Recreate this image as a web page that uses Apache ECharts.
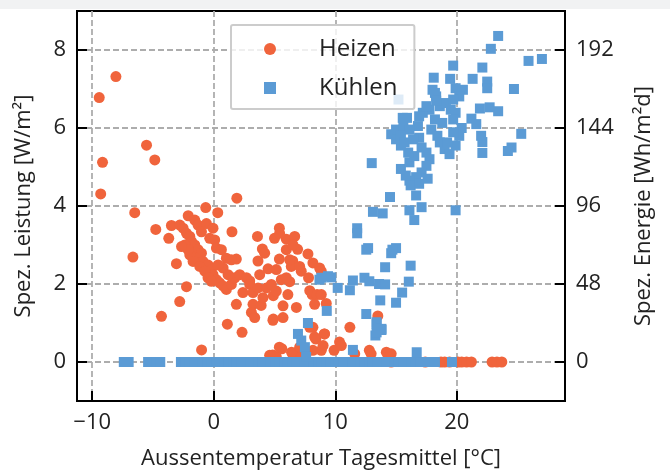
<!DOCTYPE html>
<html>
<head>
<meta charset="utf-8">
<script src="https://cdn.jsdelivr.net/npm/echarts@6/dist/echarts.min.js"></script>
<style>
  html, body { margin: 0; padding: 0; background: #fff; }
  #chart { width: 670px; height: 475px; }
</style>
</head>
<body>
<div id="chart"></div>
<script>
// Heizen: [Tagesmittel °C, Leistung W/m2]
const heizenPunkte = [
  [-8.05,7.32],[-9.42,6.78],[-5.53,5.56],[-4.85,5.18],[-9.15,5.12],[-9.3,4.31],[1.9,4.2],
  [-6.5,3.83],[-0.66,3.96],[0.33,3.83],[-2.1,3.75],[-4.77,3.4],[-3.48,3.5],[-3.7,3.17],
  [-6.65,2.69],[-3.07,2.52],[-2.24,1.93],[-2.8,1.55],[-4.3,1.17],[-1.0,0.31],[1.12,0.97],[2.33,0.76],
  [1.5,3.34],[1.86,2.64],[3.6,3.22],[4.0,2.9],[5.4,3.43],[5.0,3.17],[5.97,3.15],[6.66,3.22],
  [6.9,2.89],[7.75,2.77],[5.4,2.64],[4.47,2.39],[3.64,2.59],[3.78,2.24],[5.56,2.11],[6.25,2.06],
  [6.5,2.59],[7.2,2.33],[7.8,2.16],[2.96,2.08],[2.4,1.78],[1.86,1.48],[3.23,1.48],[3.9,1.45],
  [3.1,1.27],[4.9,1.1],[5.7,1.44],[6.1,1.73],[4.9,1.7],[6.8,1.4],[7.9,1.83],[8.1,1.73],[8.5,1.73],
  [7.9,0.89],[8.4,0.59],[5.6,0.34],[6.5,0.21],[4.85,0.18],
  [-2.79,3.51],[-2.52,3.43],[-2.24,3.3],[-1.97,3.22],[-1.83,3.09],[-1.56,3.0],[-1.29,2.88],
  [-1.01,2.79],[-1.42,2.66],[-0.88,2.58],[-0.47,2.49],[-0.19,2.37],[-0.06,2.24],[0.22,2.11],
  [0.49,2.03],[0.77,1.95],[1.04,1.86],[1.45,1.99],[1.73,2.16],[2.14,2.24],[2.69,2.16],[2.96,1.99],
  [-0.33,3.17],[0.08,3.13],[0.22,2.92],[0.63,2.88],[1.04,2.66],[1.45,2.62],[-1.97,2.75],[-1.7,2.58],
  [-1.15,2.45],[-0.74,2.33],[-0.47,2.16],[-0.19,2.07],[-1.56,3.64],[-1.29,3.51],[-1.01,3.34],
  [-0.6,3.55],[-0.06,3.43],[-2.38,3.0],[-2.11,2.88],[-2.65,2.96],[0.77,2.41],[1.18,2.24],[0.36,2.49],
  [3.23,1.78],[3.64,1.9],[4.05,1.65],[4.33,1.9],[4.74,1.99],[5.15,1.82],[5.15,2.37],[5.97,2.16],
  [6.38,2.45],[7.07,2.45],[8.16,2.54],[8.71,2.41],[8.3,1.48],[5.97,2.88],[6.25,2.62],[4.19,2.79],
  [5.42,3.3],[6.52,3.0],
  [8.85,2.33],[8.85,1.73],[9.26,1.5],[9.12,0.72],[11.2,0.89],[13.5,1.18],[10.35,0.51],[9.9,0.3],
  [12.8,0.3],[14.2,0.25],[14.6,0.21],[3.37,1.14],[4.87,1.07],[5.7,1.14],[5.15,0.13],[7.07,0.25],
  [7.6,0.21],[8.16,0.89],[9.1,0.72],[8.85,0.3],[10.5,0.42],[12.95,0.21],[11.6,0.21],[4.6,0.17],
  [5.4,0.38],[6.4,0.25],[7.07,0.38],[8.16,0.3],[9.0,0.42],[8.3,0.64]
];
// Heizen-Tage ohne Leistung (Wert 0)
const heizenNullTemp = [14.6, 17.4, 18.7, 19.0, 19.4, 20.1, 20.4, 20.8, 21.2, 22.9, 23.3, 23.7];

// Kühlen: [Tagesmittel °C, Leistung W/m2]
const kuehlenPunkte = [
  [23.4,8.36],[22.8,8.03],[25.9,7.72],[27.0,7.77],[19.7,7.6],[22.1,7.55],[18.1,7.29],[19.45,7.26],
  [21.3,7.26],[22.5,7.19],[22.5,7.02],[24.7,7.0],[18.0,6.98],[19.9,7.02],[20.5,6.98],[18.3,6.81],
  [20.2,6.81],[15.2,6.73],[21.9,6.5],[22.7,6.53],[23.4,6.43],[21.2,6.24],[21.6,6.1],[25.3,5.85],
  [24.5,5.5],[24.2,5.41],[22.1,5.64],[22.1,5.36],[22.0,5.8],[13.0,5.1],
  [17.75,6.47],[17.2,6.39],[17.5,6.56],[18.6,6.56],[19.1,6.64],[19.7,6.73],[19.5,6.47],[19.9,6.39],
  [19.7,6.22],[18.8,6.13],[18.2,6.22],[17.9,5.96],[18.4,5.8],[18.6,5.63],[19.0,5.46],[19.4,5.33],
  [19.9,5.55],[20.2,5.8],[20.4,6.0],[19.7,5.89],[19.2,5.63],[16.9,6.3],[16.8,6.05],[16.9,5.75],
  [17.1,5.5],[17.5,5.37],[17.75,5.2],[17.5,5.03],[17.1,4.86],[16.65,4.74],[16.1,4.65],[15.4,4.95],
  [15.8,4.78],[16.2,4.53],[16.1,5.12],[16.5,5.28],[16.0,5.37],[15.4,5.55],[15.0,5.71],[14.6,5.84],
  [15.0,5.96],[15.6,6.05],[16.1,5.96],[15.55,6.26],[15.9,6.26],[15.4,5.8],[15.7,5.63],[16.4,5.71],
  [18.2,6.9],[18.3,6.7],[14.5,4.23],[16.65,4.27],[16.9,4.57],[17.6,4.7],[17.1,3.97],[16.1,3.89],
  [16.5,3.64],[13.1,3.85],[13.9,3.81],[19.9,3.89],[11.8,3.43],[11.8,3.3],[12.7,2.92],[12.55,2.88],
  [14.6,2.79],[15.0,2.92],[14.7,2.88],[14.1,2.43],[16.2,2.47],[8.85,2.16],[9.67,2.17],[10.2,1.9],
  [11.45,2.09],[11.2,1.84],[12.4,2.16],[12.8,2.07],[13.6,2.0],[14.1,1.99],[16.05,2.06],[15.5,1.78],
  [13.7,1.58],[15.0,1.52],[9.3,1.31],[12.55,1.23],[13.4,1.02],[13.8,0.82],[13.3,0.68],[11.45,0.31],
  [16.7,0.25],[8.7,2.11],[9.4,2.2],[7.75,1.0],[6.93,0.72],[7.2,0.55],[7.5,0.38],[7.6,0.13],
  [13.4,0.97],[13.4,0.76],[13.8,0.85]
];
// Kühlen-Tage ohne Leistung (Wert 0)
const kuehlenNullTemp = [
  -7.4, -7.0, -5.4, -5.0, -4.7, -4.4,
  -2.7, -2.3, -2.0, -1.6, -1.2, -0.9, -0.5, -0.2, 0.2, 0.5, 0.9, 1.2, 1.6, 1.9, 2.3, 2.6,
  3.0, 3.3, 3.7, 4.0, 4.4, 4.7, 5.1, 5.4, 5.8, 6.1, 6.5, 6.8, 7.2, 7.5, 7.9, 8.2, 8.6, 8.9,
  9.3, 9.6, 10.0, 10.3, 10.7, 11.0, 11.4, 11.7, 12.1, 12.4, 12.8, 13.1, 13.5, 13.8, 14.2,
  14.9, 15.2, 15.6, 15.9, 16.3, 16.6, 17.0, 17.7, 18.0, 18.2, 19.6
];

const faktorEnergie = 24; // W/m2 -> Wh/m2d

const heizenData = heizenPunkte.concat(heizenNullTemp.map(t => [t, 0]));
const kuehlenData = kuehlenNullTemp.map(t => [t, 0]).concat(kuehlenPunkte);

const font = 'Open Sans';
const textCol = '#222';
const minus = v => String(v).replace('-', '\u2212');
const gridLine = { show: true, showMinLine: false, showMaxLine: false,
  lineStyle: { color: '#adadad', width: 1.8, type: [6, 3] } };
const tick = { show: true, inside: true, length: 10, lineStyle: { color: '#000', width: 2 } };
const line = { show: true, onZero: false, lineStyle: { color: '#000', width: 2 } };
const label = { fontFamily: font, fontSize: 22, color: textCol, margin: 11, showMinLabel: false, showMaxLabel: false };
const title = { fontFamily: font, fontSize: 22, color: textCol };

const chart = echarts.init(document.getElementById('chart'));
chart.setOption({
  animation: false,
  backgroundColor: '#fff',
  textStyle: { fontFamily: font },
  graphic: [{ type: 'rect', shape: { x: 0, y: 0, width: 670, height: 9 }, style: { fill: '#f1f2f3' }, silent: true }],
  grid: { left: 77, right: 105, top: 11, bottom: 70, show: true, borderColor: '#000', borderWidth: 2 },
  legend: {
    orient: 'vertical', left: 231, top: 25,
    padding: [12, 17, 9, 33], itemGap: 15, itemWidth: 12, itemHeight: 12,
    borderColor: '#cccccc', borderWidth: 2, borderRadius: 2,
    backgroundColor: 'rgba(255,255,255,0.8)',
    textStyle: { fontFamily: font, fontSize: 24, color: textCol, padding: [0, 0, 0, 38] },
    data: ['Heizen', 'Kühlen']
  },
  xAxis: {
    type: 'value', min: -11.25, max: 28.9, splitNumber: 5,
    name: 'Aussentemperatur Tagesmittel [°C]', nameLocation: 'middle', nameGap: 47,
    nameTextStyle: title,
    axisLine: line, axisTick: tick,
    axisLabel: Object.assign({ formatter: minus }, label),
    splitLine: gridLine
  },
  yAxis: [{
    type: 'value', min: -1, max: 9, splitNumber: 5, position: 'left',
    name: 'Spez. Leistung [W/m²]', nameLocation: 'middle', nameGap: 42,
    nameTextStyle: title,
    axisLine: line, axisTick: tick,
    axisLabel: Object.assign({ formatter: minus }, label),
    splitLine: gridLine
  }, {
    type: 'value', min: -1, max: 9, splitNumber: 5, position: 'right',
    name: 'Spez. Energie [Wh/m²d]', nameLocation: 'middle', nameGap: 68,
    nameTextStyle: title,
    axisLine: line, axisTick: tick,
    axisLabel: Object.assign({ formatter: v => String(Math.round(v * faktorEnergie)) }, label),
    splitLine: { show: false }
  }],
  series: [
    {
      name: 'Heizen', type: 'scatter', data: heizenData,
      symbol: 'circle', symbolSize: 11,
      itemStyle: { color: '#f0643c', opacity: 1 }
    },
    {
      name: 'Kühlen', type: 'scatter', data: kuehlenData,
      symbol: 'rect', symbolSize: 10,
      itemStyle: { color: '#5b9bd5', opacity: 1 }
    }
  ]
});
</script>
</body>
</html>
